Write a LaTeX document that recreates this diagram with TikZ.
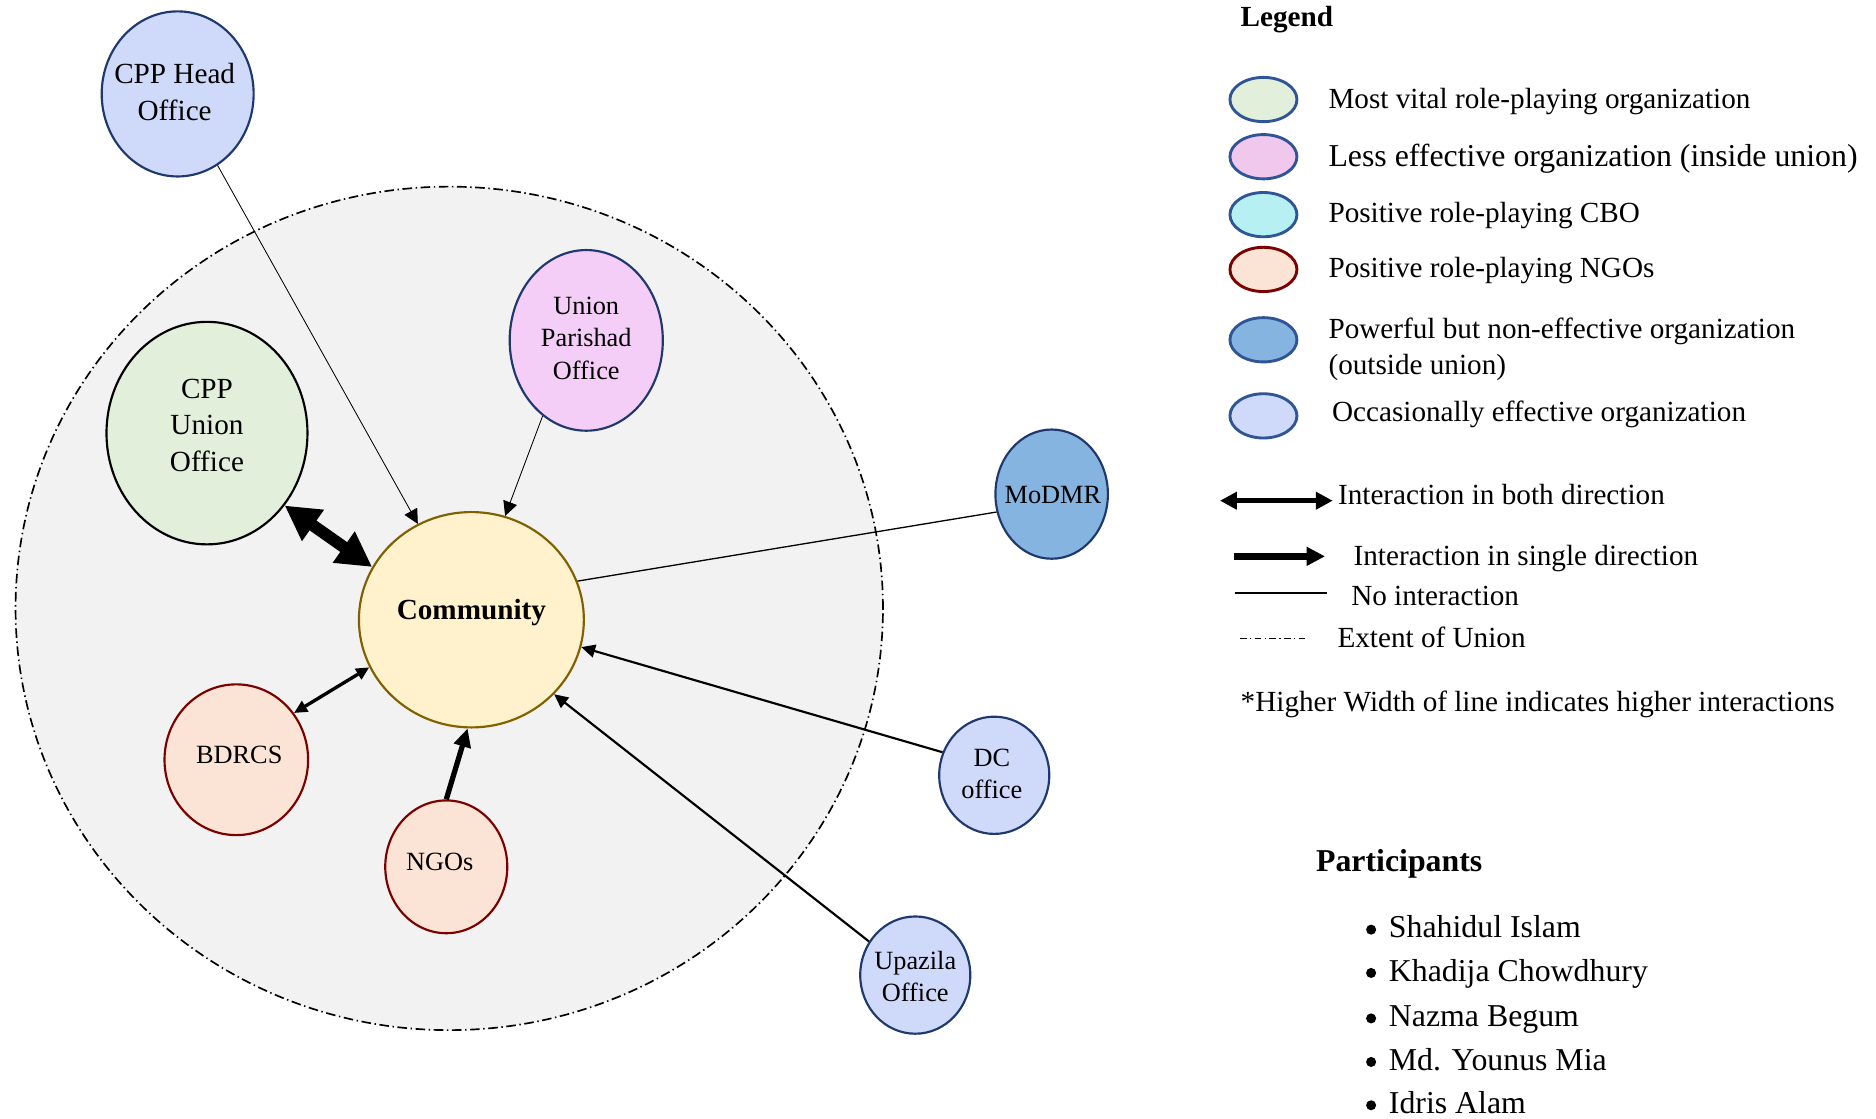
\documentclass[tikz,border=0pt]{standalone}
\usepackage{fontspec}
\setmainfont{Liberation Serif}
\usetikzlibrary{shapes.geometric,arrows.meta}

\definecolor{unionbg}{RGB}{242,242,242}
\definecolor{navy}{RGB}{31,56,110}
\definecolor{legendedge}{RGB}{47,85,151}
\definecolor{occfill}{RGB}{207,218,250}
\definecolor{vitalfill}{RGB}{226,239,218}
\definecolor{lessfill}{RGB}{245,206,247}
\definecolor{lesslegend}{RGB}{240,200,238}
\definecolor{cbofill}{RGB}{182,240,243}
\definecolor{ngofill}{RGB}{251,228,213}
\definecolor{ngoedge}{RGB}{123,0,0}
\definecolor{powerfill}{RGB}{133,180,224}
\definecolor{commfill}{RGB}{255,242,204}
\definecolor{commedge}{RGB}{128,96,0}

\newcommand{\orgmain}{\fontsize{12.2pt}{15.3pt}\selectfont}
\newcommand{\orgsmall}{\fontsize{11pt}{13.6pt}\selectfont}
\newcommand{\orgbig}{\fontsize{13.3pt}{16pt}\selectfont}

\tikzset{
  org/.style={ellipse, draw, line width=0.9pt, inner sep=0pt},
  orgtext/.style={inner sep=0pt, align=center},
  legendoval/.style={ellipse, draw=legendedge, line width=1.2pt, inner sep=0pt,
    minimum width=28pt, minimum height=18.5pt},
  legtext/.style={inner sep=0pt, anchor=base west, font=\orgmain},
  thinarrow/.style={line width=0.35pt, -{Triangle[length=6pt,width=6pt]}},
  noline/.style={line width=0.55pt},
  outerarrow/.style={line width=0.9pt, -{Triangle[length=5.8pt,width=5.4pt]}},
  heavyboth/.style={line width=5pt, {Triangle[length=14.5pt,width=15pt]}-{Triangle[length=14.5pt,width=15pt]}},
  mediumboth/.style={line width=1.4pt, {Triangle[length=5.5pt,width=5pt]}-{Triangle[length=5.5pt,width=5pt]}},
  strongarrow/.style={line width=2.2pt, -{Triangle[length=7.7pt,width=7pt]}},
  unionedge/.style={line width=0.7pt, dash pattern=on 4pt off 1.5pt on 0.6pt off 1.5pt}
}

\begin{document}
\begin{tikzpicture}[x=0.5pt,y=-0.5pt]
\useasboundingbox (0,0) rectangle (1568,935);

% extent of the union
\node[ellipse, inner sep=0pt, fill=unionbg, draw, unionedge,
  minimum width=362.5pt, minimum height=352.5pt] (union) at (375.5,508.5) {};

% organisations
\node[org, fill=occfill, draw=navy, minimum width=63.5pt, minimum height=69pt] (cpph) at (148.5,78.5) {};
\node[org, fill=vitalfill, draw=black, minimum width=84pt, minimum height=93pt] (cppu) at (173,362) {};
\node[org, fill=lessfill, draw=navy, minimum width=64pt, minimum height=75.5pt] (up) at (490,284.5) {};
\node[org, fill=commfill, draw=commedge, minimum width=94pt, minimum height=90pt] (comm) at (394,518) {};
\node[org, fill=powerfill, draw=navy, minimum width=47pt, minimum height=54pt] (modmr) at (879,413) {};
\node[org, fill=ngofill, draw=ngoedge, minimum width=60pt, minimum height=63pt] (bdrcs) at (197.5,635) {};
\node[org, fill=ngofill, draw=ngoedge, minimum width=51pt, minimum height=55.5pt] (ngos) at (373,724.5) {};
\node[org, fill=occfill, draw=navy, minimum width=46pt, minimum height=49pt] (dc) at (831,648) {};
\node[org, fill=occfill, draw=navy, minimum width=46pt, minimum height=49pt] (upz) at (765,815) {};

% their names
\node[orgtext, font=\fontsize{12.2pt}{15.5pt}\selectfont] (cpph-t) at (146,77) {CPP Head\\Office};
\node[orgtext, font=\fontsize{12.2pt}{15.25pt}\selectfont] (cppu-t) at (173,355.5) {CPP\\Union\\Office};
\node[orgtext, font=\orgsmall] (up-t) at (490,282.5) {Union\\Parishad\\Office};
\node[orgtext, font=\orgmain\bfseries] (comm-t) at (394,512.3) {Community};
\node[orgtext, font=\orgsmall] (bdrcs-t) at (200,631) {BDRCS};
\node[orgtext, font=\orgsmall] (ngos-t) at (367.5,720) {NGOs};
\node[orgtext, font=\orgsmall] (modmr-t) at (880,413.4) {MoDMR};
\node[orgtext, font=\orgsmall] (dc-t) at (829,647) {DC\\office};
\node[orgtext, font=\orgsmall] (upz-t) at (765,816) {Upazila\\Office};

% interactions
\draw[thinarrow] (cpph) -- (comm);
\draw[thinarrow] (up.240) -- (comm.72);
\draw[heavyboth] (cppu.317) -- (comm.152);
\draw[mediumboth] (bdrcs.39) -- (comm.205);
\draw[strongarrow] (ngos.90) -- (comm.268);
\draw[noline] (modmr.198) -- (comm.20);
\draw[outerarrow] (dc.156) -- (comm.346);
\draw[outerarrow] (upz.144) -- (comm.318);

% legend
\node[legtext, font=\orgmain\bfseries] (leg-title) at (1036.5,22.3) {Legend};

\node[legendoval, fill=vitalfill] (lg1) at (1056,83.2) {};
\node[legendoval, fill=lesslegend] (lg2) at (1056,131) {};
\node[legendoval, fill=cbofill] (lg3) at (1056,179.4) {};
\node[legendoval, fill=ngofill, draw=ngoedge] (lg4) at (1056,225.2) {};
\node[legendoval, fill=powerfill] (lg5) at (1056,284) {};
\node[legendoval, fill=occfill] (lg6) at (1056,347.6) {};

\node[legtext] (lg1-t) at (1110,90.5) {Most vital role-playing organization};
\node[legtext, font=\orgbig] (lg2-t) at (1110,139.3) {Less effective organization (inside union)};
\node[legtext] (lg3-t) at (1110,186.1) {Positive role-playing CBO};
\node[legtext] (lg4-t) at (1110,232.1) {Positive role-playing NGOs};
\node[legtext] (lg5-t) at (1110,282.8) {Powerful but non-effective organization};
\node[legtext] (lg5-u) at (1110,312.9) {(outside union)};
\node[legtext] (lg6-t) at (1113,352.4) {Occasionally effective organization};

\coordinate (both-a) at (1019.7,418.5);
\coordinate (both-b) at (1113.9,418.5);
\coordinate (one-a) at (1031,465);
\coordinate (one-b) at (1107.5,465);
\coordinate (none-a) at (1032,495.7);
\coordinate (none-b) at (1109,495.7);
\coordinate (ext-a) at (1036.5,533.8);
\coordinate (ext-b) at (1093,533.8);

\draw[line width=2.2pt, {Triangle[length=7pt,width=7pt]}-{Triangle[length=7pt,width=7pt]}] (both-a) -- (both-b);
\draw[line width=3pt, -{Triangle[length=7.7pt,width=7.5pt]}] (one-a) -- (one-b);
\draw[line width=0.7pt] (none-a) -- (none-b);
\draw[line width=0.4pt, dash pattern=on 2.8pt off 1.4pt on 0.5pt off 1.4pt] (ext-a) -- (ext-b);

\node[legtext] (both-t) at (1118,422) {Interaction in both direction};
\node[legtext] (one-t) at (1131,472.3) {Interaction in single direction};
\node[legtext] (none-t) at (1129,505.7) {No interaction};
\node[legtext] (ext-t) at (1117.5,540.8) {Extent of Union};
\node[legtext] (note-t) at (1036.6,595) {*Higher Width of line indicates higher interactions};

% participants
\node[legtext, font=\orgbig\bfseries] (part-title) at (1099.6,728) {Participants};
\foreach \y/\who [count=\i] in {783.8/Shahidul Islam, 820/Khadija Chowdhury,
    858/Nazma Begum, 894.4/Md. Younus Mia, 930.6/Idris Alam} {
  \fill (1146,\y-6.8) circle (2.1pt);
  \node[legtext, font=\orgbig] (p\i) at (1160.5,\y) {\who};
}
\end{tikzpicture}
\end{document}
